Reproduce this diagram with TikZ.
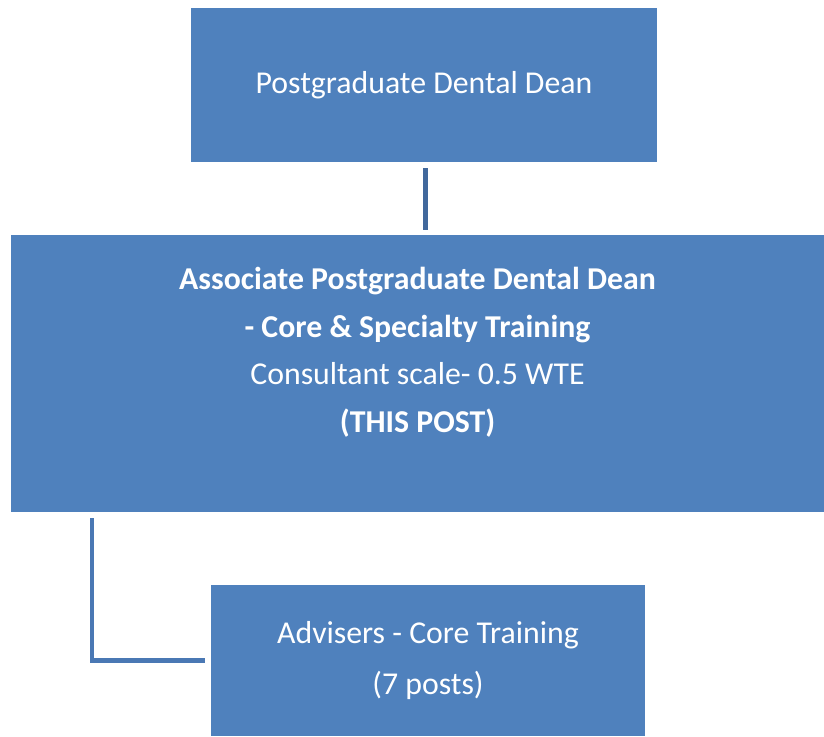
\documentclass[tikz,border=0pt]{standalone}
\usepackage{fontspec}
\setmainfont{Carlito}
\usetikzlibrary{positioning}
\definecolor{boxblue}{HTML}{4F81BD}
\definecolor{linkdark}{HTML}{41689C}
\definecolor{linkblue}{HTML}{4A78B4}
\tikzset{
    post box/.style={rectangle,fill=boxblue,text=white,align=center,inner sep=0pt,
        font=\fontsize{31.8}{47.5}\selectfont},
    link/.style={line width=5pt,draw=linkdark},
    side link/.style={line width=4.5pt,draw=linkblue}
}

\begin{document}
\begin{tikzpicture}[x=1pt,y=-1pt]

                \useasboundingbox (0,0) rectangle (824,736);

                \node[post box] (dean) [minimum width=466pt,minimum height=154pt] at (424,85)
                    {Postgraduate Dental Dean};

                \node[post box] (assoc) [minimum width=813pt,minimum height=277pt] at (417.5,373.5)
                    {\textbf{Associate Postgraduate Dental Dean}\\
                     \textbf{- Core \& Specialty Training}\\
                     Consultant scale- 0.5 WTE\\
                     \textbf{(THIS POST)}\\
                     \mbox{}};

                \node[post box] (advisers) [minimum width=434pt,minimum height=151pt,
                    font=\fontsize{31.8}{51}\selectfont] at (428,660.5)
                    {Advisers - Core Training\\(7 posts)};

                \draw[link,shorten <=6pt,shorten >=5pt] ([xshift=1pt]dean.south) -- ([xshift=7.5pt]assoc.north);
                \draw[side link,shorten <=6pt,shorten >=6pt] ([xshift=81pt]assoc.south west) |- (advisers.west);

            \end{tikzpicture}
\end{document}
